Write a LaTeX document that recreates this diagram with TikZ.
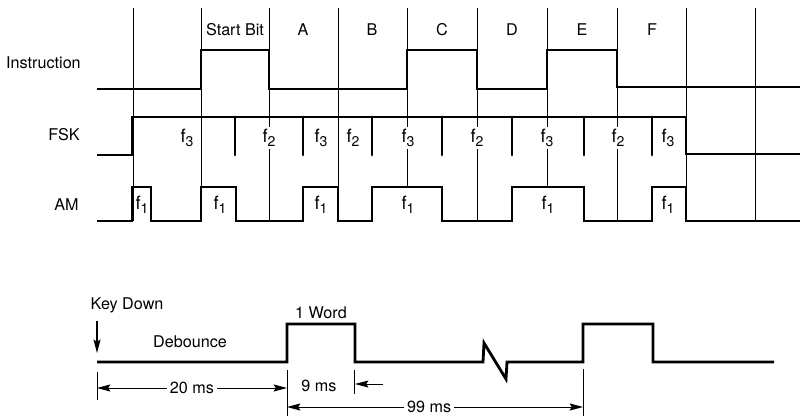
\documentclass[tikz,border=0pt]{standalone}
\usepackage{fontspec}
\setmainfont{TeX Gyre Heros}
\usepackage{tikz}
\usetikzlibrary{positioning, arrows.meta, calc}

\newcommand{\fsub}[1]{f\raisebox{-0.45ex}{\fontsize{10}{12}\selectfont #1}}

\begin{document}
\begin{tikzpicture}[
    x=0.025cm, y=-0.025cm,
    >={Stealth[length=9.5pt, width=5pt, inset=1.5pt]},
    wave/.style={line width=2pt, line join=miter},
    gridline/.style={line width=0.7pt},
    rowlabel/.style={font=\fontsize{11.5}{13}\selectfont, anchor=east, inner sep=0pt},
    bitlabel/.style={font=\fontsize{11.5}{13}\selectfont, inner sep=1pt},
    freqlabel/.style={font=\fontsize{13}{15}\selectfont, fill=white, inner sep=1.5pt},
    dimlabel/.style={font=\fontsize{11.5}{13}\selectfont, fill=white, inner sep=2pt},
    dimline/.style={line width=0.7pt},
]
\useasboundingbox (0,0) rectangle (800,416);

% Bit cell borders
\foreach \x/\yb in {133/221, 201/221, 269/221, 338/221, 407/187, 477/221, 547/187, 617/221, 686/221, 755/221} {
    \draw[gridline] (\x,8) -- (\x,\yb);
}

% Row labels
\node[rowlabel] (lblinstr) at (81,63) {Instruction};
\node[rowlabel] (lblfsk) at (80,135) {FSK};
\node[rowlabel] (lblam) at (79,205) {AM};

% Bit labels
\foreach \x/\t/\n in {235/Start Bit/bs, 303/A/ba, 372/B/bb, 442/C/bc, 512/D/bd, 582/E/be, 652/F/bf} {
    \node[bitlabel] (\n) at (\x,30) {\t};
}

% Instruction waveform
\draw[wave] (97,89) -- (201,89) -- (201,50) -- (269,50) -- (269,89) -- (407,89) -- (407,50)
    -- (477,50) -- (477,89) -- (547,89) -- (547,50) -- (617,50) -- (617,87) -- (800,87);

% FSK waveform
\draw[wave] (97,155) -- (132,155) -- (132,117) -- (686,117) -- (686,154) -- (800,154);
\foreach \x in {235,303,372,442,512,584,652} {
    \draw[wave, line cap=round] (\x,117) -- (\x,155);
}
\foreach \x/\d/\n in {187/3/fa, 269/2/fb, 321/3/fc, 353/2/fd, 408/3/fe, 477/2/ff, 547/3/fg, 618/2/fh, 668/3/fi} {
    \node[freqlabel] (\n) at (\x,138) {\fsub{\d}};
}

% AM waveform
\draw[wave] (97,221) -- (132,221) -- (132,187) -- (151,187) -- (151,221) -- (201,221) -- (201,187)
    -- (236,187) -- (236,221) -- (303,221) -- (303,187) -- (338,187) -- (338,221) -- (372,221)
    -- (372,187) -- (442,187) -- (442,221) -- (512,221) -- (512,187) -- (584,187) -- (584,221)
    -- (652,221) -- (652,187) -- (686,187) -- (686,221) -- (800,221);
\foreach \x/\n in {142/aa, 220/ab, 321/ac, 408/ad, 548/ae, 668/af} {
    \node[freqlabel, fill=none] (\n) at (\x,205) {\fsub{1}};
}

% Key down timing
\node[bitlabel, anchor=west] (keydown) at (89,305) {Key Down};
\node[bitlabel] (debounce) at (190,342) {Debounce};
\node[bitlabel] (word) at (321,313) {1 Word};
\coordinate (kdtop) at (97,321);
\coordinate (kdbot) at (97,353);
\draw[->, line width=1.1pt] (kdtop) -- (kdbot);

\draw[wave] (97,362) -- (287,362) -- (287,324) -- (355,324) -- (355,362) -- (483,362) -- (484,343)
    -- (506,379) -- (507,362) -- (583,362) -- (583,324) -- (653,324) -- (653,362) -- (774,362);

% Dimension ticks
\foreach \x/\ya/\yb in {97/372/400, 287/370/416, 354/370/394, 583/369/416} {
    \draw[dimline] (\x,\ya) -- (\x,\yb);
}

% Dimension arrows
\coordinate (da) at (97,388);
\coordinate (db) at (287,388);
\coordinate (dc) at (383,384);
\coordinate (dd) at (355,384);
\coordinate (de) at (287,407);
\coordinate (df) at (583,407);
\draw[dimline, <->] (da) -- (db) node[dimlabel, midway] (t20) {20 ms};
\node[dimlabel] (t9) at (319,386) {9 ms};
\draw[dimline, ->] (dc) -- (dd);
\draw[dimline, <->] (de) -- (df) node[dimlabel, pos=0.48] (t99) {99 ms};

\end{tikzpicture}
\end{document}
